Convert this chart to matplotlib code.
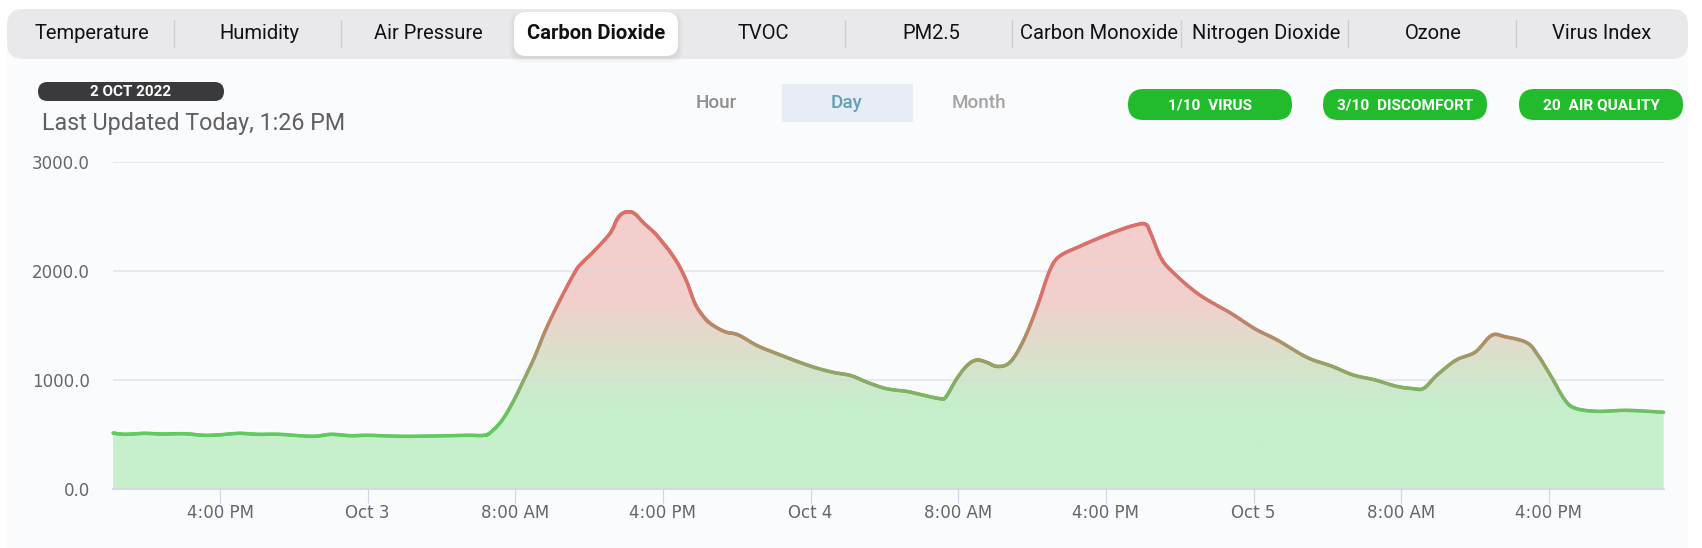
import numpy as np
import matplotlib
matplotlib.use('Agg')
import matplotlib.pyplot as plt
from matplotlib.collections import LineCollection
from matplotlib.colors import LinearSegmentedColormap
from matplotlib.patches import FancyBboxPatch, PathPatch, Rectangle
from matplotlib.path import Path

plt.rcParams['font.family'] = ['Roboto', 'DejaVu Sans']

# hours since midnight on Oct 2
hours = [10.2, 10.85, 11.88, 12.91, 14.08, 15.11, 15.85, 17.02, 18.05, 19.23, 20.99, 22.02,
         23.05, 24.08, 25.85, 27.61, 29.38, 30.32, 30.7, 31.29, 31.88, 32.46, 33.05, 33.64,
         34.42, 35.14, 35.5, 36.23, 37.13, 37.49, 37.76, 38.12, 38.49, 38.94, 39.57, 40.02,
         40.38, 40.85, 41.29, 41.73, 42.17, 42.61, 43.35, 44.08, 45.11, 46.14, 47.17, 48.2, 49.23,
         50.19, 51.07, 52.1, 53.28, 54.31, 55.04, 55.34, 55.93, 56.51, 57.01, 57.54, 58.07,
         58.66, 59.16, 59.75, 60.34, 60.93, 61.45, 62.54, 63.72, 64.75, 65.48, 66.13, 66.43,
         66.95, 67.54, 69.01, 70.78, 72.1, 73.28, 74.89, 76.22, 77.4, 78.57, 79.75, 80.63,
         81.22, 81.95, 82.98, 84.01, 84.9, 85.63, 86.81, 87.4, 88.13, 88.87, 89.45, 90.63,
         92.25, 94.22]
co2 = [513, 501, 510, 504, 507, 492, 495, 510, 501, 501, 483, 501,
       489, 492, 483, 486, 492, 492, 525, 632, 800, 1000, 1213, 1457,
       1732, 1961, 2053, 2175, 2343, 2466, 2521, 2542, 2521, 2441, 2343, 2252,
       2175, 2053, 1900, 1702, 1586, 1512, 1442, 1412, 1314, 1243, 1176, 1115, 1069,
       1039, 978, 920, 892, 852, 828, 846, 1014, 1137, 1182, 1161, 1124,
       1143, 1243, 1442, 1702, 1992, 2129, 2221, 2307, 2374, 2414, 2429, 2343,
       2129, 2001, 1787, 1610, 1466, 1366, 1207, 1127, 1045, 1000, 941, 920,
       923, 1045, 1182, 1255, 1408, 1396, 1341, 1228, 1030, 816, 739, 712,
       721, 703]

tick_hours = [16, 24, 32, 40, 48, 56, 64, 72, 80, 88]
tick_labels = ['4:00 PM', 'Oct 3', '8:00 AM', '4:00 PM', 'Oct 4', '8:00 AM', '4:00 PM', 'Oct 5', '8:00 AM', '4:00 PM']
y_ticks = [0, 1000, 2000, 3000]
y_labels = ['0.0', '1000.0', '2000.0', '3000.0']

tabs = ['Temperature', 'Humidity', 'Air Pressure', 'Carbon Dioxide', 'TVOC', 'PM2.5',
        'Carbon Monoxide', 'Nitrogen Dioxide', 'Ozone', 'Virus Index']
tab_centers = [92, 259.5, 428, 596, 763, 931, 1098.5, 1266, 1433.5, 1602]
separators = [174, 341, 845, 1012, 1180.5, 1348, 1516]
badges = ['1/10  VIRUS', '3/10  DISCOMFORT', '20  AIR QUALITY']
badge_left = [1128, 1323, 1519]

W, H = 1702, 548
fig = plt.figure(figsize=(W / 100, H / 100), dpi=100, facecolor='white')

# page furniture is drawn in pixel coordinates
bg = fig.add_axes([0, 0, 1, 1])
bg.set_xlim(0, W)
bg.set_ylim(H, 0)
bg.axis('off')


def rounded(x0, y0, x1, y1, r, color, **kw):
    p = FancyBboxPatch((x0 + r, y0 + r), x1 - x0 - 2 * r, y1 - y0 - 2 * r,
                       boxstyle='round,pad=%g,rounding_size=%g' % (r, r),
                       fc=color, ec='none', **kw)
    bg.add_patch(p)


bg.add_patch(Rectangle((7, 40), 1681, 508, fc='#fafbfd', ec='none'))
rounded(7, 9, 1688, 59, 16, '#e9e9eb')
for i in range(6):
    rounded(514 - i, 14 - i + 2, 678 + i, 56 + i + 2, 12, '#000000', alpha=0.012)
rounded(514, 12, 678, 56, 12, 'white')
for s in separators:
    bg.plot([s, s], [20, 47], color='#cfcfd2', lw=1)
for name, cx in zip(tabs, tab_centers):
    bg.text(cx, 33.5, name, ha='center', va='center', fontsize=14.5, color='#111111',
            fontweight='bold' if name == 'Carbon Dioxide' else 'normal')

rounded(38, 82, 224, 101, 9.5, '#3a3a3c')
bg.text(131, 92, '2 OCT 2022', ha='center', va='center', fontsize=11, color='white', fontweight='bold')
bg.text(42, 123.5, 'Last Updated Today, 1:26 PM', ha='left', va='center', fontsize=16.75, color='#5f5f5f')

bg.add_patch(Rectangle((782, 84), 131, 38, fc='#e8edf5', ec='none'))
bg.text(716.5, 103.5, 'Hour', ha='center', va='center', fontsize=13.6, color='#8f8f8f', fontweight='medium')
bg.text(847, 103.5, 'Day', ha='center', va='center', fontsize=13.6, color='#649fb8', fontweight='medium')
bg.text(979, 103.5, 'Month', ha='center', va='center', fontsize=13.6, color='#a3a3a3', fontweight='medium')

for label, left in zip(badges, badge_left):
    rounded(left, 89, left + 164, 120, 15.5, '#21bb2b')
    bg.text(left + 82, 105.5, label, ha='center', va='center', fontsize=11.1, color='white', fontweight='bold')

# chart axes, 113..1664 px wide and 162..489 px tall
ax = fig.add_axes([113 / W, 1 - 489 / H, (1664 - 113) / W, (489 - 161.7) / H])
ax.patch.set_alpha(0)
ax.set_xlim(10.2, 94.24)
ax.set_ylim(0, 3000)
for sp in ['top', 'right', 'left']:
    ax.spines[sp].set_visible(False)
ax.spines['bottom'].set_color('#ccd6eb')
ax.spines['bottom'].set_linewidth(1.2)
ax.set_yticks(y_ticks, y_labels)
ax.set_xticks(tick_hours, tick_labels)
ax.tick_params(axis='y', length=0, pad=16.8, labelsize=12, labelcolor='#666666')
ax.tick_params(axis='x', length=10, width=0.8, color='#ccd6eb', pad=0.5, labelsize=12, labelcolor='#666666')
for lab in ax.get_xticklabels() + ax.get_yticklabels():
    lab.set_fontfamily('DejaVu Sans')
ax.grid(axis='y', color='#d9d9de', alpha=0.6, lw=1.3, zorder=3)
ax.set_axisbelow(False)

# soften the readings into a continuous curve (Catmull-Rom between the points)
px = np.array(hours)
py = np.array(co2, dtype=float)
xs, ys = [], []
for i in range(len(px) - 1):
    i0, i3 = max(i - 1, 0), min(i + 2, len(px) - 1)
    t = np.linspace(0, 1, 12, endpoint=False)
    for arr, out in ((px, xs), (py, ys)):
        p0, p1, p2, p3 = arr[i0], arr[i], arr[i + 1], arr[i3]
        out.extend(0.5 * (2 * p1 + (p2 - p0) * t + (2 * p0 - 5 * p1 + 4 * p2 - p3) * t ** 2
                          + (3 * p1 - p0 - 3 * p2 + p3) * t ** 3))
xs = np.array(xs + [px[-1]])
ys = np.array(ys + [py[-1]])

fill_cmap = LinearSegmentedColormap.from_list('fill', [(0, '#c6efcb'), (0.25, '#c6efcb'), (0.58, '#f2cfcc'), (1, '#f2cfcc')])
line_cmap = LinearSegmentedColormap.from_list('line', [(0, '#62c862'), (0.2, '#62c862'), (0.6, '#d9706a'), (1, '#d9706a')])

grad = np.linspace(0, 1, 256).reshape(-1, 1)
im = ax.imshow(grad, cmap=fill_cmap, origin='lower', aspect='auto', extent=[10.2, 94.24, 0, 3000], zorder=1)
verts = np.column_stack([np.r_[xs[0], xs, xs[-1]], np.r_[0, ys, 0]])
clip = PathPatch(Path(verts), transform=ax.transData, fc='none', ec='none')
ax.add_patch(clip)
im.set_clip_path(clip)

segs = np.stack([np.column_stack([xs[:-1], ys[:-1]]), np.column_stack([xs[1:], ys[1:]])], axis=1)
lc = LineCollection(segs, cmap=line_cmap, norm=plt.Normalize(0, 3000), linewidths=2.5, capstyle='round', zorder=4)
lc.set_array((ys[:-1] + ys[1:]) / 2)
lc.set_clip_on(False)
ax.add_collection(lc)

fig.savefig('out.png', dpi=100, facecolor='white')
